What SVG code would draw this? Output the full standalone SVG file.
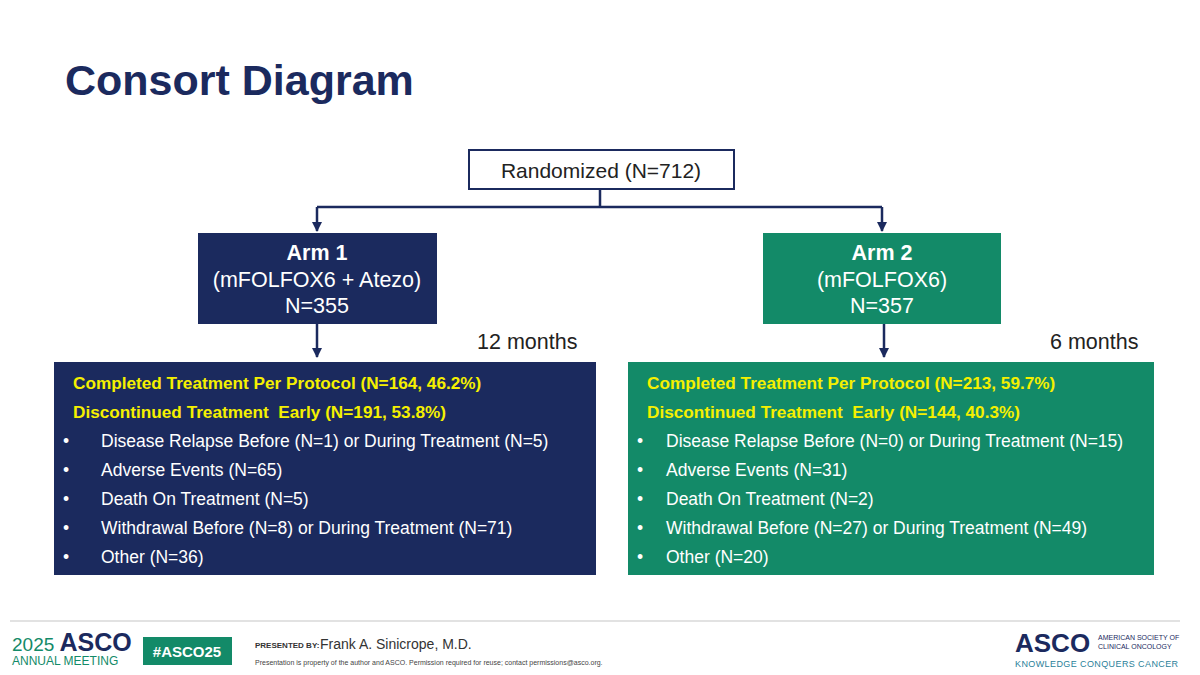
<svg xmlns="http://www.w3.org/2000/svg" width="1200" height="675" viewBox="0 0 1200 675">
<defs>
<style>
text{font-family:"Liberation Sans",Arial,sans-serif;white-space:pre}
.w{fill:#fff;font-size:17.5px}
.y{fill:#f5f000;font-size:17.2px;font-weight:bold}
.arm{fill:#fff;font-size:21.5px;text-anchor:middle}
.c{stroke:#1b2a5e;stroke-width:2.5;fill:none}
</style>
<marker id="ah" viewBox="0 0 10 10" refX="9" refY="5" markerWidth="4" markerHeight="4" orient="auto"><path d="M0,0L10,5L0,10z" fill="#1b2a5e"/></marker>
</defs>
<rect width="1200" height="675" fill="#fff"/>
<text x="65" y="95" font-size="43" font-weight="bold" fill="#1b2a5e">Consort Diagram</text>
<g id="connectors">
<path class="c" d="M600,189V207M317,207H882"/>
<path class="c" d="M317,207V231" marker-end="url(#ah)"/>
<path class="c" d="M882,207V231" marker-end="url(#ah)"/>
<path class="c" d="M317,324V357" marker-end="url(#ah)"/>
<path class="c" d="M884,324V357" marker-end="url(#ah)"/>
</g>
<g id="randomized"><rect x="469" y="150" width="265" height="39" fill="#fff" stroke="#1b2a5e" stroke-width="2"/><text x="601" y="178" font-size="21" text-anchor="middle" fill="#222">Randomized (N=712)</text></g>
<g id="arm1"><rect x="198" y="233" width="239" height="91" fill="#1b2a5e"/>
<text class="arm" x="317" y="260" font-weight="bold">Arm 1</text><text class="arm" x="317" y="287">(mFOLFOX6 + Atezo)</text><text class="arm" x="317" y="313" font-size="18">N=355</text></g>
<g id="arm2"><rect x="763" y="233" width="238" height="91" fill="#138a68"/>
<text class="arm" x="882" y="260" font-weight="bold">Arm 2</text><text class="arm" x="882" y="287">(mFOLFOX6)</text><text class="arm" x="882" y="313" font-size="18">N=357</text></g>
<text x="477" y="349" font-size="21.5" fill="#222">12 months</text>
<text x="1050" y="349" font-size="21.5" fill="#222">6 months</text>
<g id="outcome1"><rect x="54" y="362" width="542" height="213" fill="#1b2a5e"/>
<text class="y" x="73" y="389">Completed Treatment Per Protocol (N=164, 46.2%)</text>
<text class="y" x="73" y="418">Discontinued Treatment  Early (N=191, 53.8%)</text>
<g class="w"><text x="63" y="447">•</text><text x="101" y="447">Disease Relapse Before (N=1) or During Treatment (N=5)</text>
<text x="63" y="476">•</text><text x="101" y="476">Adverse Events (N=65)</text>
<text x="63" y="505">•</text><text x="101" y="505">Death On Treatment (N=5)</text>
<text x="63" y="534">•</text><text x="101" y="534">Withdrawal Before (N=8) or During Treatment (N=71)</text>
<text x="63" y="563">•</text><text x="101" y="563">Other (N=36)</text></g></g>
<g id="outcome2"><rect x="628" y="362" width="526" height="213" fill="#138a68"/>
<text class="y" x="647" y="389">Completed Treatment Per Protocol (N=213, 59.7%)</text>
<text class="y" x="647" y="418">Discontinued Treatment  Early (N=144, 40.3%)</text>
<g class="w"><text x="637" y="447">•</text><text x="666" y="447">Disease Relapse Before (N=0) or During Treatment (N=15)</text>
<text x="637" y="476">•</text><text x="666" y="476">Adverse Events (N=31)</text>
<text x="637" y="505">•</text><text x="666" y="505">Death On Treatment (N=2)</text>
<text x="637" y="534">•</text><text x="666" y="534">Withdrawal Before (N=27) or During Treatment (N=49)</text>
<text x="637" y="563">•</text><text x="666" y="563">Other (N=20)</text></g></g>
<line x1="10" y1="621" x2="1180" y2="621" stroke="#e2e2e2" stroke-width="2"/>
<text x="12" y="651" font-size="19" fill="#138a68">2025 <tspan fill="#1b2a5e" font-size="25" font-weight="bold">ASCO</tspan></text>
<text x="12" y="665" font-size="12" fill="#138a68">ANNUAL MEETING</text>
<rect x="143" y="637" width="89" height="28" fill="#138a68"/>
<text x="187" y="657" font-size="15" font-weight="bold" fill="#fff" text-anchor="middle">#ASCO25</text>
<text x="255" y="648" font-size="8" font-weight="bold" fill="#333">PRESENTED BY:</text>
<text x="320" y="649" font-size="14" fill="#333">Frank A. Sinicrope, M.D.</text>
<text x="255" y="665" font-size="7" fill="#444">Presentation is property of the author and ASCO. Permission required for reuse; contact permissions@asco.org.</text>
<text x="1015" y="652" font-size="26" font-weight="bold" fill="#1b2a5e">ASCO</text>
<text x="1098" y="640" font-size="7" fill="#1b2a5e">AMERICAN SOCIETY OF</text>
<text x="1098" y="649" font-size="7" fill="#1b2a5e">CLINICAL ONCOLOGY</text>
<text x="1015" y="667" font-size="9" fill="#2a7f9a" letter-spacing="0.4">KNOWLEDGE CONQUERS CANCER</text>
</svg>
